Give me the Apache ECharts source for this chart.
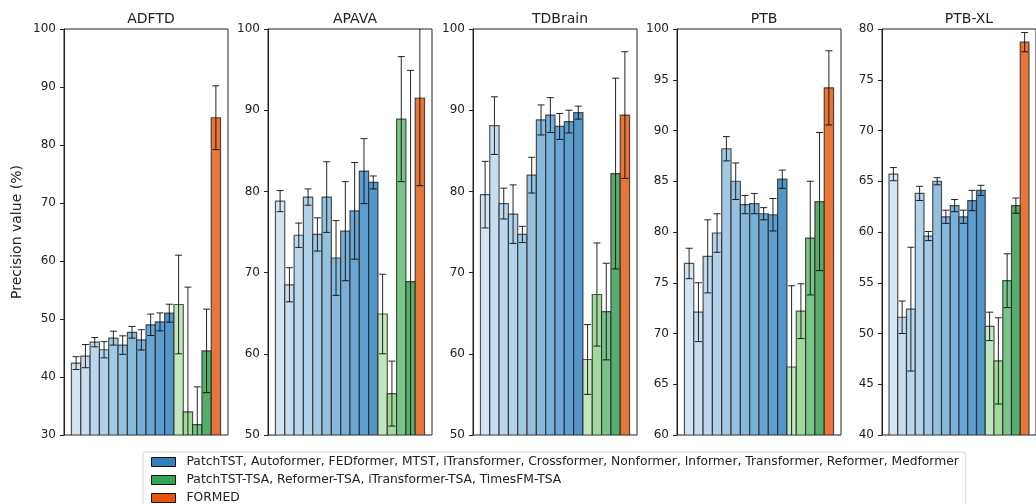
<!DOCTYPE html>
<html>
<head>
<meta charset="utf-8">
<script src="https://cdn.jsdelivr.net/npm/echarts@6/dist/echarts.min.js"></script>
<style>
html,body{margin:0;padding:0;background:#fff;}
#chart{width:1036px;height:504px;}
</style>
</head>
<body>
<div id="chart"></div>
<script>
// models, in bar order
var models = ["PatchTST","Autoformer","FEDformer","MTST","iTransformer","Crossformer","Nonformer","Informer","Transformer","Reformer","Medformer",
	"PatchTST-TSA","Reformer-TSA","iTransformer-TSA","TimesFM-TSA","FORMED"];
var datasets = ["ADFTD","APAVA","TDBrain","PTB","PTB-XL"];

// mean / std per dataset
var adftdMean = [42.4,43.6,46.0,44.7,46.7,45.5,47.7,46.4,49.0,49.5,51.0,52.5,34.0,31.8,44.5,84.7];
var adftdStd  = [1.1,2.0,0.8,1.4,1.2,1.6,1.0,1.75,1.85,1.55,1.55,8.5,21.5,6.5,7.2,5.5];
var apavaMean = [78.8,68.5,74.6,79.3,74.7,79.3,71.8,75.1,77.6,82.5,81.1,64.9,55.1,88.9,68.9,91.5];
var apavaStd  = [1.3,2.1,1.5,1.0,2.05,4.35,4.6,6.1,5.95,4.0,0.8,4.9,4.0,7.7,26.0,10.8];
var tdbrainMean = [79.6,88.1,78.5,77.2,74.7,82.0,88.8,89.4,88.0,88.6,89.7,59.3,67.3,65.2,82.2,89.4];
var tdbrainStd  = [4.1,3.55,1.9,3.6,1.0,2.2,1.85,2.15,1.6,1.4,0.8,4.3,6.35,5.95,11.75,7.8];
var ptbMean = [76.9,72.1,77.6,79.9,88.2,85.0,82.7,82.8,81.8,81.7,85.2,66.7,72.2,79.4,83.0,94.2];
var ptbStd  = [1.5,2.9,3.6,1.9,1.2,1.8,0.9,1.0,0.6,1.6,0.9,8.0,2.7,5.6,6.8,3.65];
var ptbxlMean = [65.7,51.6,52.4,63.8,59.6,65.0,61.5,62.6,61.5,63.1,64.1,50.7,47.3,55.2,62.6,78.7];
var ptbxlStd  = [0.65,1.6,6.1,0.7,0.45,0.35,0.65,0.6,0.65,1.0,0.5,1.4,4.25,2.65,0.75,0.95];

var allMean = [adftdMean, apavaMean, tdbrainMean, ptbMean, ptbxlMean];
var allStd = [adftdStd, apavaStd, tdbrainStd, ptbStd, ptbxlStd];
// y axis ranges
var yMin = [30,50,50,60,40];
var yMax = [100,100,100,100,80];
var yStep = [10,10,10,5,5];

var legendNames = [
	"PatchTST, Autoformer, FEDformer, MTST, iTransformer, Crossformer, Nonformer, Informer, Transformer, Reformer, Medformer",
	"PatchTST-TSA, Reformer-TSA, iTransformer-TSA, TimesFM-TSA",
	"FORMED"
];

// bar colours: blues -> greens -> orange
var barColors = ['#d4e4f2','#c8ddef','#bcd7eb','#b1d2e8','#a3c9e3','#95c1df','#87b9db','#78afd7','#69a6d3','#5e9ecf','#5596c9',
	'#c3e7bd','#a1d99b','#78c587','#56ad6d','#e8753a'];
var legendColors = ['#3182bd','#31a354','#e6550d'];

var FONT = 'DejaVu Sans';
var gridLeft = [64,268,473,677,882];

var grids = [], xAxes = [], yAxes = [], titles = [], series = [];

datasets.forEach(function(name, k){
	grids.push({
		left: gridLeft[k], top: 29, width: 164, height: 406,
		show: true, borderColor: '#222', borderWidth: 1, backgroundColor: 'transparent'
	});
	xAxes.push({
		type: 'value', gridIndex: k, min: -1.3, max: 16.3, show: false
	});
	yAxes.push({
		type: 'value', gridIndex: k, min: yMin[k], max: yMax[k], interval: yStep[k],
		axisLine: {show: true, onZero: false, lineStyle: {color: '#222', width: 1}},
		axisTick: {show: true, inside: false, length: 4, lineStyle: {color: '#222'}},
		axisLabel: {fontSize: 12, color: '#222', fontFamily: FONT, margin: 8},
		splitLine: {show: false},
		name: k == 0 ? 'Precision value (%)' : '',
		nameLocation: 'middle', nameGap: 40, nameRotate: 90,
		nameTextStyle: {fontSize: 14, color: '#222', fontFamily: FONT}
	});
	titles.push({
		text: name, left: gridLeft[k] + 82, top: 7, textAlign: 'center',
		textStyle: {fontSize: 14, fontWeight: 'normal', color: '#222', fontFamily: FONT}
	});

	var data = [];
	for (var i = 0; i < models.length; i++) {
		data.push([i, allMean[k][i], allStd[k][i], models[i]]);
	}

	// bars
	series.push({
		type: 'custom', xAxisIndex: k, yAxisIndex: k, clip: true, silent: true,
		data: data,
		renderItem: function(params, api){
			var i = api.value(0), v = api.value(1);
			var cs = params.coordSys;
			var p0 = api.coord([i - 0.5, v]);
			var p1 = api.coord([i + 0.5, v]);
			var bottom = cs.y + cs.height;
			return {
				type: 'rect',
				shape: {x: p0[0], y: p0[1], width: p1[0] - p0[0], height: bottom - p0[1]},
				style: {fill: barColors[i], stroke: 'rgba(30,30,30,0.75)', lineWidth: 1.2}
			};
		}
	});

	// error bars
	series.push({
		type: 'custom', xAxisIndex: k, yAxisIndex: k, clip: true, silent: true,
		data: data,
		renderItem: function(params, api){
			var i = api.value(0), v = api.value(1), s = api.value(2);
			var hi = api.coord([i, v + s]);
			var lo = api.coord([i, v - s]);
			var cap = 3.5;
			var st = {stroke: 'rgba(0,0,0,0.85)', lineWidth: 1};
			return {
				type: 'group',
				children: [
					{type: 'line', shape: {x1: hi[0], y1: hi[1], x2: lo[0], y2: lo[1]}, style: st},
					{type: 'line', shape: {x1: hi[0] - cap, y1: hi[1], x2: hi[0] + cap, y2: hi[1]}, style: st},
					{type: 'line', shape: {x1: lo[0] - cap, y1: lo[1], x2: lo[0] + cap, y2: lo[1]}, style: st}
				]
			};
		}
	});
});

// empty series only for the legend
legendNames.forEach(function(n, j){
	series.push({
		type: 'bar', name: n, xAxisIndex: 0, yAxisIndex: 0, data: [],
		itemStyle: {color: legendColors[j], borderColor: '#111', borderWidth: 1}
	});
});

var myChart = echarts.init(document.getElementById('chart'), null, {renderer: 'canvas'});
var option = {
	animation: false,
	backgroundColor: '#fff',
	title: titles,
	grid: grids,
	xAxis: xAxes,
	yAxis: yAxes,
	legend: {
		data: legendNames,
		orient: 'vertical',
		left: 143, top: 452, height: 80,
		itemWidth: 24, itemHeight: 9, itemGap: 6,
		padding: [4, 7, 5, 8],
		borderColor: '#d0d0d0', borderWidth: 1, borderRadius: 3,
		icon: 'rect',
		itemStyle: {borderColor: '#111', borderWidth: 1},
		textStyle: {fontSize: 12.3, color: '#222', fontFamily: FONT, padding: [0, 0, 0, 6]}
	},
	series: series
};
myChart.setOption(option);
</script>
</body>
</html>
